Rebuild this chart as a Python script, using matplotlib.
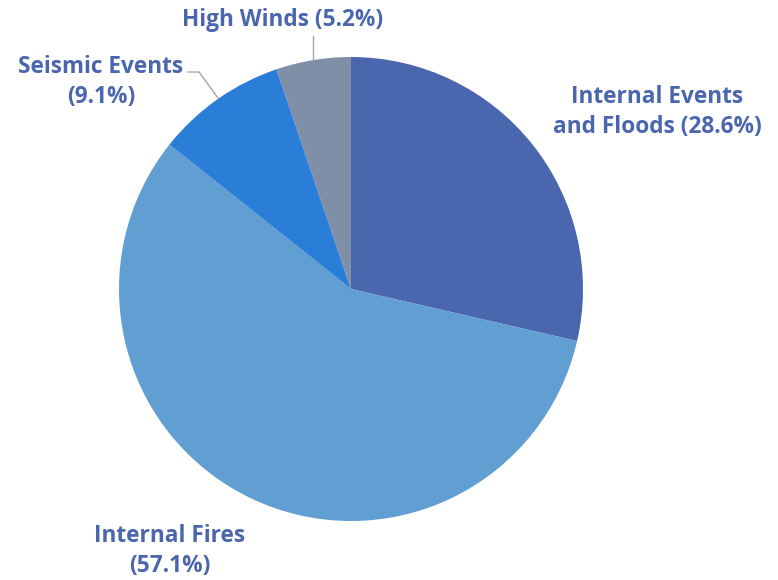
import matplotlib
matplotlib.use('Agg')
from matplotlib import pyplot as plt

# dados do grafico
categorias = ['Internal Events\nand Floods', 'Internal Fires', 'Seismic Events', 'High Winds']
valores = [28.6, 57.1, 9.1, 5.2]
cores = ['#4A66AE', '#619ED2', '#2A7ED8', '#7F8FA7']
cor_texto = '#4A66AE'

W, H = 778, 580
cx, cy, r = 351, 289, 232

fig = plt.figure(figsize=(W / 100, H / 100), dpi=100)
ax = fig.add_axes([(cx - r) / W, (H - cy - r) / H, 2 * r / W, 2 * r / H])

ax.pie(valores, colors=cores, startangle=90, counterclock=False, radius=1,
       wedgeprops=dict(linewidth=0))
ax.set_xlim(-1, 1)
ax.set_ylim(-1, 1)
ax.axis('off')


def px(x, y):
    # pixel -> coordenadas do eixo
    return (x - cx) / r, (cy - y) / r


rotulos = ['{} ({}%)'.format(c, v) for c, v in zip(categorias, valores)]
rotulos[1] = 'Internal Fires\n({}%)'.format(valores[1])
rotulos[2] = 'Seismic Events\n({}%)'.format(valores[2])
posicoes = [(657, 112), (170, 551), (101, 82), (283, 20)]

for txt, (x, y) in zip(rotulos, posicoes):
    ax.text(*px(x, y), txt, ha='center', va='center', color=cor_texto,
            fontsize=16.3, fontweight='bold', family='Open Sans', linespacing=1.36,
            clip_on=False)

# linhas de chamada
xs, ys = zip(px(313, 36), px(313, 60))
ax.plot(xs, ys, color='#A6A6A6', lw=1, clip_on=False)
xs, ys = zip(px(188, 72), px(199, 72), px(218, 98))
ax.plot(xs, ys, color='#A6A6A6', lw=1, clip_on=False)

fig.savefig('out.png', dpi=100)
